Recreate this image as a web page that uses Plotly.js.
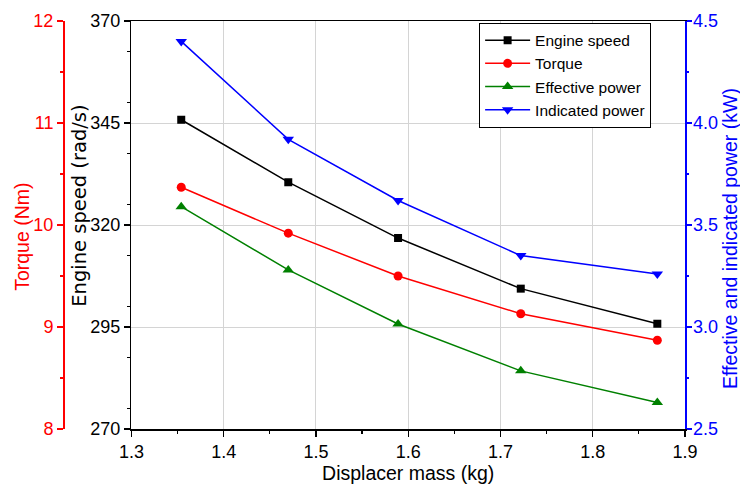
<!DOCTYPE html>
<html>
<head>
<meta charset="utf-8">
<script src="https://cdn.plot.ly/plotly-3.0.1.min.js"></script>
<style>
html,body{margin:0;padding:0;background:#fff;}
#chart{width:740px;height:484px;}
</style>
</head>
<body>
<div id="chart"></div>
<script>
const displacerMass = [1.354, 1.470, 1.589, 1.722, 1.870];
const engineSpeed = [345.8, 330.5, 316.8, 304.4, 295.8];
const torque = [10.37, 9.92, 9.50, 9.13, 8.87];
const effectivePower = [3.59, 3.28, 3.015, 2.785, 2.63];
const indicatedPower = [4.40, 3.92, 3.62, 3.35, 3.26];

const FONT = '"Liberation Sans", Arial, sans-serif';

const traces = [
  {x: displacerMass, y: engineSpeed, name: 'Engine speed', type: 'scatter', mode: 'lines+markers',
   yaxis: 'y', line: {color: '#000000', width: 1.5}, marker: {symbol: 'square', size: 8, color: '#000000'}},
  {x: displacerMass, y: torque, name: 'Torque', type: 'scatter', mode: 'lines+markers',
   yaxis: 'y2', line: {color: '#ff0000', width: 1.5}, marker: {symbol: 'circle', size: 9, color: '#ff0000'}},
  {x: displacerMass, y: effectivePower, name: 'Effective power', type: 'scatter', mode: 'lines+markers',
   yaxis: 'y3', line: {color: '#008000', width: 1.5}, marker: {symbol: 'triangle-up', size: 10, color: '#008000'}},
  {x: displacerMass, y: indicatedPower, name: 'Indicated power', type: 'scatter', mode: 'lines+markers',
   yaxis: 'y3', line: {color: '#0000ff', width: 1.5}, marker: {symbol: 'triangle-down', size: 10, color: '#0000ff'}}
];

const layout = {
  width: 740, height: 484,
  margin: {l: 63, r: 55, t: 21, b: 55},
  paper_bgcolor: '#ffffff', plot_bgcolor: '#ffffff',
  font: {family: FONT, size: 18, color: '#000000'},
  showlegend: true,
  legend: {x: 0.669, y: 0.996, xanchor: 'left', yanchor: 'top', itemwidth: 45,
           bgcolor: 'rgba(255,255,255,1)', bordercolor: '#000000', borderwidth: 1,
           font: {family: FONT, size: 15.5, color: '#000000'}, tracegroupgap: 0},
  xaxis: {
    domain: [0.110, 1.0], range: [1.3, 1.9], dtick: 0.1, tick0: 1.3,
    ticks: 'outside', ticklen: 6, tickwidth: 1.2, tickcolor: '#000',
    minor: {dtick: 0.05, ticks: 'outside', ticklen: 3, tickwidth: 1.2, tickcolor: '#000', showgrid: false},
    showline: true, linecolor: '#000', linewidth: 1.5, mirror: true,
    showgrid: true, gridcolor: '#d4d4d4', gridwidth: 1, zeroline: false,
    tickfont: {family: FONT, size: 18, color: '#000'},
    title: {text: 'Displacer mass (kg)', font: {family: FONT, size: 19.5, color: '#000'}, standoff: 0},
    automargin: false
  },
  yaxis: {
    range: [270, 370], dtick: 25, tick0: 270, anchor: 'x', side: 'left',
    ticks: 'outside', ticklen: 6, tickwidth: 1.2, tickcolor: '#000',
    minor: {dtick: 12.5, ticks: 'outside', ticklen: 3, tickwidth: 1.2, tickcolor: '#000', showgrid: false},
    showline: true, linecolor: '#000', linewidth: 1.5,
    showgrid: true, gridcolor: '#d4d4d4', gridwidth: 1, zeroline: false,
    tickfont: {family: FONT, size: 18, color: '#000'},
    automargin: false
  },
  yaxis2: {
    range: [8, 12], dtick: 1, tick0: 8, overlaying: 'y', anchor: 'free', position: 0, side: 'left',
    ticks: 'outside', ticklen: 6, tickwidth: 1.2, tickcolor: '#ff0000',
    minor: {dtick: 0.5, ticks: 'outside', ticklen: 3, tickwidth: 1.2, tickcolor: '#ff0000', showgrid: false},
    showline: true, linecolor: '#ff0000', linewidth: 1.5,
    showgrid: false, zeroline: false,
    tickfont: {family: FONT, size: 18, color: '#ff0000'},
    automargin: false
  },
  yaxis3: {
    range: [2.5, 4.5], dtick: 0.5, tick0: 2.5, tickformat: '.1f', overlaying: 'y', anchor: 'x', side: 'right',
    ticks: 'outside', ticklen: 5, tickwidth: 1.2, tickcolor: '#0000ff',
    minor: {dtick: 0.25, ticks: 'outside', ticklen: 2, tickwidth: 1.2, tickcolor: '#0000ff', showgrid: false},
    showline: true, linecolor: '#0000ff', linewidth: 1.5,
    showgrid: false, zeroline: false, ticklabelstandoff: -2,
    tickfont: {family: FONT, size: 18, color: '#0000ff'},
    automargin: false
  },
  annotations: [
    {text: 'Torque (Nm)', xref: 'paper', yref: 'paper', x: -0.0659, y: 0.471, textangle: -90,
     showarrow: false, xanchor: 'center', yanchor: 'middle',
     font: {family: FONT, size: 19.5, color: '#ff0000'}},
    {text: 'Engine speed (rad/s)', xref: 'paper', yref: 'paper', x: 0.0273, y: 0.547, textangle: -90,
     showarrow: false, xanchor: 'center', yanchor: 'middle',
     font: {family: '"DejaVu Sans", sans-serif', size: 19.5, color: '#000000'}},
    {text: 'Effective and indicated power (kW)', xref: 'paper', yref: 'paper', x: 1.0723, y: 0.468, textangle: -90,
     showarrow: false, xanchor: 'center', yanchor: 'middle',
     font: {family: FONT, size: 19.5, color: '#0000ff'}}
  ]
};

Plotly.newPlot('chart', traces, layout, {displayModeBar: false, staticPlot: true});
</script>
</body>
</html>
